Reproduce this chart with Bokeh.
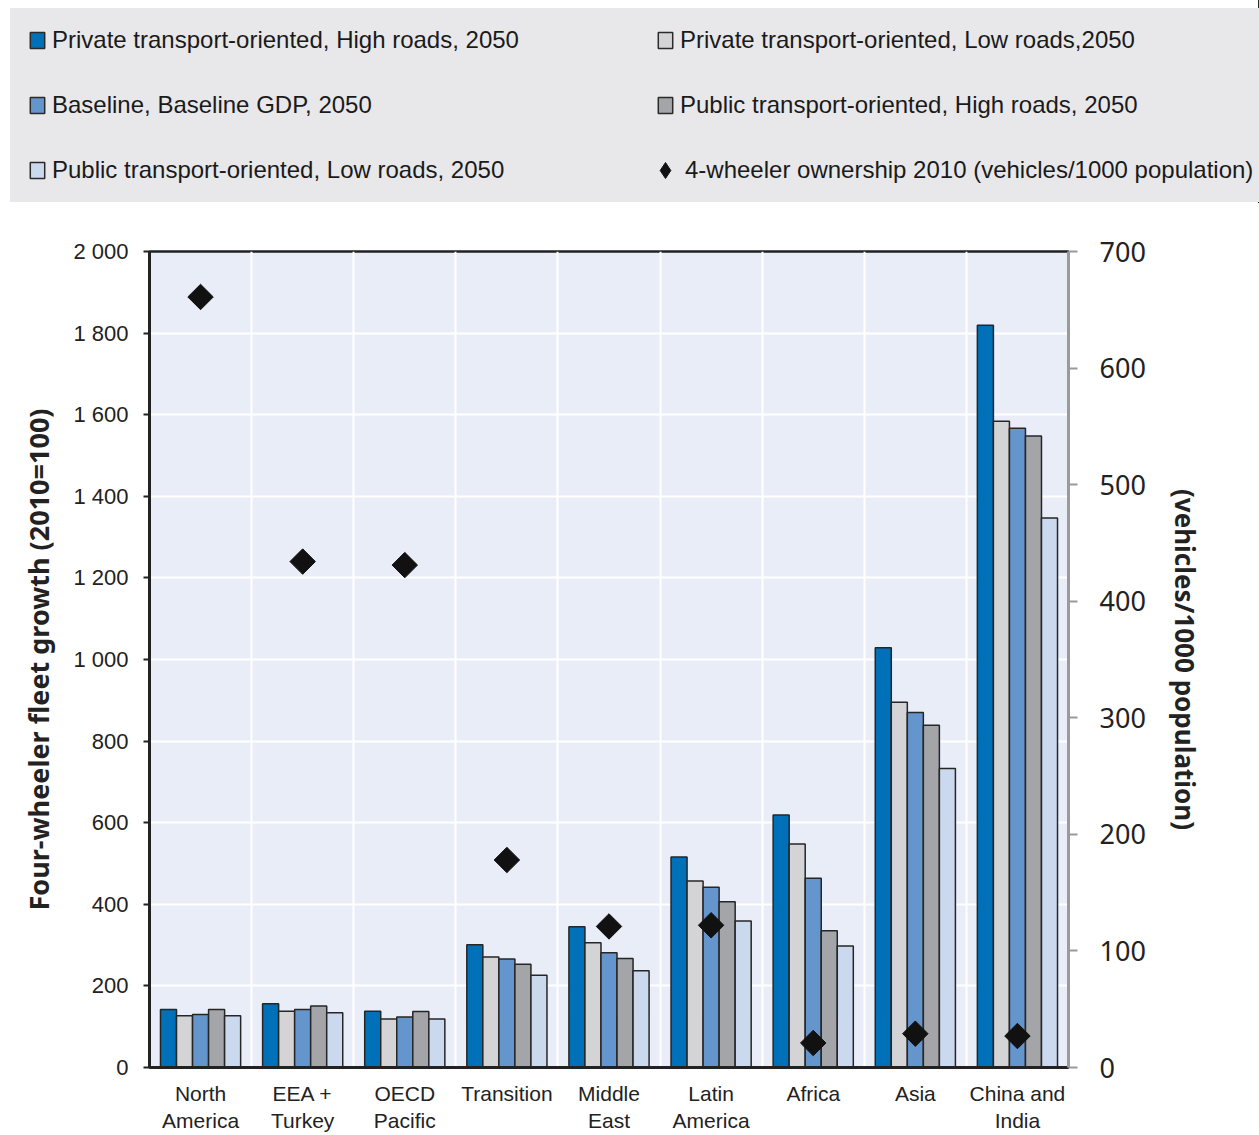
from math import pi
from bokeh.plotting import figure
from bokeh.models import (ColumnDataSource, FactorRange, Range1d, LinearAxis,
                          Legend, LegendItem, FixedTicker)
from bokeh.transform import dodge
from bokeh.embed import file_html
from bokeh.resources import INLINE

# ---------------- data ----------------
regions = ["North\nAmerica", "EEA +\nTurkey", "OECD\nPacific", "Transition",
           "Middle\nEast", "Latin\nAmerica", "Africa", "Asia", "China and\nIndia"]
private_high = [142, 156, 138, 301, 345, 516, 619, 1029, 1819]
private_low = [127, 138, 119, 271, 306, 457, 548, 895, 1584]
baseline = [130, 142, 124, 266, 281, 442, 464, 870, 1567]
public_high = [142, 151, 137, 253, 267, 406, 335, 839, 1548]
public_low = [127, 134, 119, 226, 237, 359, 298, 733, 1347]
ownership_2010 = [661, 434, 431, 178, 121, 122, 21, 29, 27]

series_keys = ["private_high", "private_low", "baseline", "public_high", "public_low"]
series_labels = ["Private transport-oriented, High roads, 2050",
                 "Private transport-oriented, Low roads,2050",
                 "Baseline, Baseline GDP, 2050",
                 "Public transport-oriented, High roads, 2050",
                 "Public transport-oriented, Low roads, 2050"]
ownership_label = "4-wheeler ownership 2010 (vehicles/1000 population)"

left_ticks = [0, 200, 400, 600, 800, 1000, 1200, 1400, 1600, 1800, 2000]
left_tick_labels = ["0", "200", "400", "600", "800", "1 000", "1 200",
                    "1 400", "1 600", "1 800", "2 000"]
right_ticks = [0, 100, 200, 300, 400, 500, 600, 700]

# ---------------- styles ----------------
colors = ["#0070b8", "#d4d4d6", "#6595cd", "#a4a5a8", "#cbd9ef"]
offsets = [-0.314, -0.157, 0.0, 0.157, 0.314]
BAR_W = 0.157
SANS = "Liberation Sans"
# legend fills column by column: this order gives the reference's row layout
legend_order = [0, 2, 4, 1, 3]

W = 1259
LEG_H = 203            # height of the legend strip
MAIN_H = 1135 - LEG_H  # height of the chart
FL, FR, FT, FB = 149, 1068, 251 - LEG_H, 1069 - LEG_H   # frame edges in chart pixels

src = ColumnDataSource(dict(region=regions, private_high=private_high,
                            private_low=private_low, baseline=baseline,
                            public_high=public_high, public_low=public_low,
                            own=ownership_2010))

# ---------------- legend strip (own root, no layout alignment) ----------------
lf = figure(width=W, height=LEG_H, x_range=(0, 1), y_range=(0, 1),
            toolbar_location=None, output_backend="svg", min_border=0,
            x_axis_location=None, y_axis_location=None,
            background_fill_color="white", border_fill_color="white",
            outline_line_color=None)
lf.grid.visible = False

# legend-carrier renderers: same data, but far outside this strip's 0..1 ranges
leg_renderers = [lf.vbar(x=key, top=key, width=1, source=src, fill_color=c,
                         line_color="#2a2a2a", line_width=1.5)
                 for key, c in zip(series_keys, colors)]
leg_diamond = lf.scatter(x="own", y="own", source=src, marker="diamond", size=10,
                         fill_color="#111111", line_color="#111111")

PAD = 18
SP = 37
leg1 = Legend(items=[LegendItem(label=series_labels[i], renderers=[leg_renderers[i]])
                     for i in legend_order],
              location=(10, 1), ncols=2, orientation="vertical",
              glyph_width=18, glyph_height=20, label_standoff=6,
              label_width=567, label_height=20, spacing=SP, padding=PAD, margin=0,
              label_text_font=SANS, label_text_font_size="24px",
              label_text_color="#1a1a1a",
              background_fill_color="#e8e8ea", background_fill_alpha=1,
              border_line_alpha=0)
leg2 = Legend(items=[LegendItem(label=ownership_label, renderers=[leg_diamond])],
              location=(645, 13), glyph_width=40, glyph_height=40,
              label_standoff=-5, label_height=20, padding=0, margin=0,
              label_text_font=SANS, label_text_font_size="24px",
              label_text_color="#1a1a1a",
              background_fill_alpha=0, border_line_alpha=0)
lf.add_layout(leg1, "center")
lf.add_layout(leg2, "center")

# ---------------- main chart ----------------
p = figure(width=W, height=MAIN_H, x_range=FactorRange(factors=regions),
           y_range=Range1d(0, 2000), toolbar_location=None, output_backend="svg",
           min_border_left=FL, min_border_right=W - FR, min_border_top=FT,
           min_border_bottom=MAIN_H - FB, background_fill_color="#e9edf8",
           border_fill_color="white", outline_line_color="#222222",
           outline_line_width=2.5)
p.extra_y_ranges = {"own": Range1d(0, 700)}

# grids (white, vertical ones at category boundaries)
p.xgrid.ticker = FixedTicker(ticks=list(range(1, len(regions))))
p.xgrid.grid_line_color = "white"
p.xgrid.grid_line_width = 2
p.ygrid.ticker = FixedTicker(ticks=left_ticks)
p.ygrid.grid_line_color = "white"
p.ygrid.grid_line_width = 2

for key, off, c in zip(series_keys, offsets, colors):
    p.vbar(x=dodge("region", off, range=p.x_range), top=key, width=BAR_W,
           source=src, fill_color=c, line_color="#262626", line_width=1.5)

p.scatter(x="region", y="own", source=src, y_range_name="own", marker="square",
          angle=pi / 4, size=18, fill_color="#111111", line_color="#111111")

# x axis
xa = p.xaxis[0]
xa.major_tick_line_color = None
xa.axis_line_color = "#222222"
xa.axis_line_width = 3
xa.major_label_text_font = SANS
xa.major_label_text_font_size = "21px"
xa.major_label_text_color = "#222222"
xa.major_label_standoff = 8

# left axis
ya = p.yaxis[0]
ya.ticker = FixedTicker(ticks=left_ticks)
ya.major_label_overrides = dict(zip(left_ticks, left_tick_labels))
ya.axis_line_color = "#222222"
ya.axis_line_width = 3
ya.major_tick_line_color = "#222222"
ya.major_tick_line_width = 2
ya.major_tick_out = 6
ya.major_tick_in = 0
ya.minor_tick_line_color = None
ya.major_label_text_font = SANS
ya.major_label_text_font_size = "22px"
ya.major_label_text_color = "#222222"
ya.major_label_standoff = 15
ya.axis_label = "Four-wheeler fleet growth (2010=100)"
ya.axis_label_text_font = "Noto Sans"
ya.axis_label_text_font_style = "bold"
ya.axis_label_text_font_size = "27px"
ya.axis_label_text_color = "#222222"
ya.axis_label_standoff = 13

# right axis
ra = LinearAxis(y_range_name="own", ticker=FixedTicker(ticks=right_ticks),
                axis_label="(vehicles/1000 population)")
ra.axis_line_color = "#9a9a9a"
ra.axis_line_width = 3
ra.major_tick_line_color = "#9a9a9a"
ra.major_tick_line_width = 2
ra.major_tick_out = 9
ra.major_tick_in = 0
ra.minor_tick_line_color = None
ra.major_label_text_font = "Noto Sans"
ra.major_label_text_font_size = "27px"
ra.major_label_text_color = "#222222"
ra.major_label_standoff = 22
ra.axis_label_text_font = "Noto Sans"
ra.axis_label_text_font_style = "bold"
ra.axis_label_text_font_size = "26px"
ra.axis_label_text_color = "#222222"
ra.axis_label_standoff = 18
p.add_layout(ra, "right")

open("out.html", "w").write(file_html([lf, p], INLINE))
